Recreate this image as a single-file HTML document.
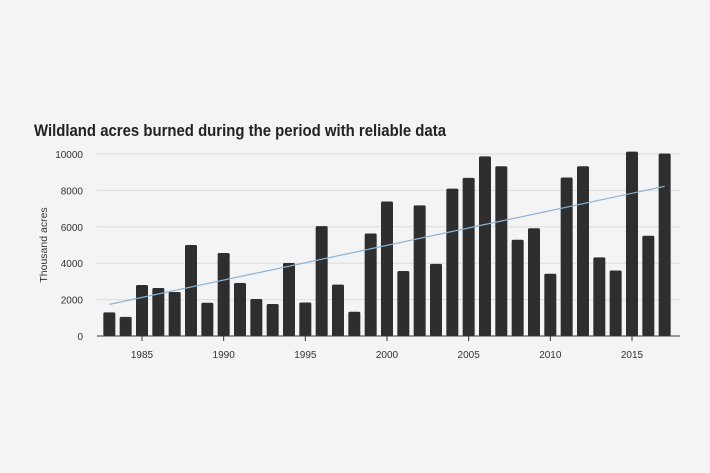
<!DOCTYPE html>
<html><head><meta charset="utf-8"><style>
body{margin:0;background:#f4f4f4;}
svg{display:block;font-family:"Liberation Sans",sans-serif;}
</style></head><body>
<svg width="710" height="473" id="c">
<rect width="710" height="473" fill="#f4f4f4"/>
<text x="34" y="136" font-size="16.5" font-weight="bold" fill="#222" textLength="412" lengthAdjust="spacingAndGlyphs">Wildland acres burned during the period with reliable data</text>
<text transform="translate(47,245) rotate(-90)" text-anchor="middle" font-size="10.5" fill="#333">Thousand acres</text>
</svg>
<script>
const years=[1983,1984,1985,1986,1987,1988,1989,1990,1991,1992,1993,1994,1995,1996,1997,1998,1999,2000,2001,2002,2003,2004,2005,2006,2007,2008,2009,2010,2011,2012,2013,2014,2015,2016,2017];
const acres=[1300,1050,2800,2640,2420,5000,1830,4560,2910,2030,1760,4010,1840,6040,2820,1330,5630,7390,3570,7180,3960,8100,8690,9870,9330,5290,5920,3420,8710,9330,4320,3600,10130,5510,10030];
const yTicks=[0,2000,4000,6000,8000,10000];
const xTicks=[1985,1990,1995,2000,2005,2010,2015];
const svg=document.getElementById('c');const NS='http://www.w3.org/2000/svg';
const x=v=>142+(v-1985)*16.333;
const y=v=>336-v*0.0182;
function mk(t,a){const e=document.createElementNS(NS,t);for(const k in a)e.setAttribute(k,a[k]);svg.appendChild(e);return e;}
yTicks.forEach(t=>{
 const g=mk('line',{x1:97,x2:680,y1:y(t),y2:y(t),stroke:'#dcdcdc','stroke-width':1});
 
 
 const l=mk('text',{x:83,y:y(t)+4,'text-anchor':'end','font-size':10,fill:'#333'});l.textContent=t;
 
 
});
years.forEach((yr,i)=>{
 const b=mk('rect',{x:x(yr)-6,y:y(acres[i]),width:12,height:336-y(acres[i]),fill:'#2e2e2e',rx:1.5});
 
 
});
const ax=mk('line',{x1:97,x2:680,y1:336,y2:336,stroke:'#333','stroke-width':1});


xTicks.forEach(t=>{
 const tk=mk('line',{x1:x(t),x2:x(t),y1:336,y2:341,stroke:'#333'});
 
 
 const l=mk('text',{x:x(t),y:358,'text-anchor':'middle','font-size':10,fill:'#333'});l.textContent=t;
 
 
});
const n=years.length;let mx=0,my=0;years.forEach((v,i)=>{mx+=v;my+=acres[i];});mx/=n;my/=n;
let sxy=0,sxx=0;years.forEach((v,i)=>{sxy+=(v-mx)*(acres[i]-my);sxx+=(v-mx)*(v-mx);});
const s=sxy/sxx,b0=my-s*mx;
const y0=years[0],y1=years[n-1];
const tl=mk('line',{x1:x(y0),y1:y(b0+s*y0),x2:x(y1),y2:y(b0+s*y1),stroke:'#8ab4d8','stroke-width':1.2});


</script>
</body></html>
